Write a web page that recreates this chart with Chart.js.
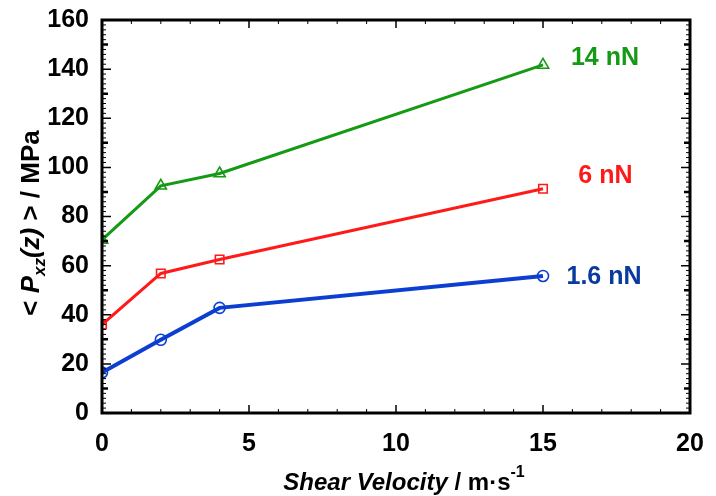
<!DOCTYPE html>
<html>
<head>
<meta charset="utf-8">
<script src="https://cdn.jsdelivr.net/npm/chart.js@4"></script>
<style>
  html, body { margin: 0; padding: 0; background: #fff; }
  #wrap { width: 716px; height: 496px; }
</style>
</head>
<body>
<div id="wrap"><canvas id="myChart" width="716" height="496"></canvas></div>
<script>
// --------------------------- DATA ---------------------------
const velocity = [0, 2, 4, 15];                       // shear velocity, m/s
const p14 = [70.5, 92.5, 97.5, 141.7];               // 14 nN
const p6 = [36, 56.8, 62.5, 91.3];                   // 6 nN
const p16 = [16.5, 29.8, 42.8, 55.8];                // 1.6 nN
const loadLabels = ['14 nN', '6 nN', '1.6 nN'];
const labelPos = [[15.95, 144.5], [16.2, 96.4], [15.8, 55.5]];   // where the load text sits (data units)
const xTicks = [0, 5, 10, 15, 20];
const yTicks = [0, 20, 40, 60, 80, 100, 120, 140, 160];

const GREEN = '#159a15';
const RED = '#ff1a1a';
const BLUE = '#0c3ed2';
const labelColors = [GREEN, RED, '#0b3a9e'];

const pts = (ys) => velocity.map((x, i) => ({ x: x, y: ys[i] }));

// --------------------------- PLUGIN: frame, ticks, titles ---------------------------
const decor = {
    id: 'decor',
    afterDraw(chart) {
        const ctx = chart.ctx;
        const a = chart.chartArea;
        const xs = chart.scales.x, ys = chart.scales.y;
        ctx.save();
        ctx.strokeStyle = '#000';

        // inward ticks, x: every 1 (minor), every 5 (major)
        for (let v = 0; v <= 20; v += 1) {
            const px = xs.getPixelForValue(v);
            const len = v % 5 === 0 ? 8 : 4;
            ctx.lineWidth = v % 5 === 0 ? 1.5 : 1;
            ctx.beginPath();
            ctx.moveTo(px, a.bottom); ctx.lineTo(px, a.bottom - len);
            ctx.moveTo(px, a.top); ctx.lineTo(px, a.top + len);
            ctx.stroke();
        }
        // inward ticks, y: every 2, 10, 20
        for (let v = 0; v <= 160; v += 2) {
            const py = ys.getPixelForValue(v);
            let len = 4, w = 1;
            if (v % 20 === 0) { len = 9; w = 1.5; }
            else if (v % 10 === 0) { len = 6; w = 2.5; }
            ctx.lineWidth = w;
            ctx.beginPath();
            ctx.moveTo(a.left, py); ctx.lineTo(a.left + len, py);
            ctx.moveTo(a.right, py); ctx.lineTo(a.right - len, py);
            ctx.stroke();
        }
        // frame
        ctx.lineWidth = 3;
        ctx.strokeRect(a.left, a.top, a.right - a.left, a.bottom - a.top);

        // load labels
        ctx.font = 'bold 25px "Liberation Sans", Arial, sans-serif';
        ctx.textBaseline = 'middle';
        ctx.textAlign = 'left';
        loadLabels.forEach((t, i) => {
            ctx.fillStyle = labelColors[i];
            ctx.fillText(t, xs.getPixelForValue(labelPos[i][0]), ys.getPixelForValue(labelPos[i][1]));
        });

        // x title: Shear Velocity / m·s^-1
        ctx.fillStyle = '#000';
        ctx.textBaseline = 'alphabetic';
        const fIt = 'italic bold 24px "Liberation Sans", Arial, sans-serif';
        const fB = 'bold 24px "Liberation Sans", Arial, sans-serif';
        const fSup = 'bold 16px "Liberation Sans", Arial, sans-serif';
        const xParts = [[ 'Shear Velocity', fIt, 0 ], [ ' / m\u00b7s', fB, 0 ], [ '-1', fSup, -13 ]];
        let total = 0;
        xParts.forEach(p => { ctx.font = p[1]; total += ctx.measureText(p[0]).width; });
        let cx = 404 - total / 2;
        xParts.forEach(p => {
            ctx.font = p[1];
            ctx.fillText(p[0], cx, 490 + p[2]);
            cx += ctx.measureText(p[0]).width;
        });

        // y title: < P_xz(z) > / MPa, rotated
        const yIt = 'italic bold 26px "Liberation Sans", Arial, sans-serif';
        const yB = 'bold 26px "Liberation Sans", Arial, sans-serif';
        const ySub = 'italic bold 17px "Liberation Sans", Arial, sans-serif';
        const yParts = [[ '< ', yB, 0 ], [ 'P', yIt, 0 ], [ 'xz', ySub, 6 ], [ '(z)', yIt, 0 ], [ ' > / MPa', yB, 0 ]];
        total = 0;
        yParts.forEach(p => { ctx.font = p[1]; total += ctx.measureText(p[0]).width; });
        ctx.translate(39, 223);
        ctx.rotate(-Math.PI / 2);
        cx = -total / 2;
        yParts.forEach(p => {
            ctx.font = p[1];
            ctx.fillText(p[0], cx, p[2]);
            cx += ctx.measureText(p[0]).width;
        });
        ctx.restore();
    }
};

// --------------------------- CHART ---------------------------
const ds = (label, data, color, shape, lw, r) => ({
    label: label,
    data: data,
    showLine: true,
    borderColor: color,
    backgroundColor: 'rgba(255,255,255,0)',
    borderWidth: lw,
    pointStyle: shape,
    pointRadius: r,
    pointBorderWidth: 1.6,
    pointBorderColor: color,
    pointBackgroundColor: 'rgba(255,255,255,0)',
    tension: 0
});

let ctx = document.querySelector('#myChart');
let myChart = new Chart(ctx, {
    type: 'scatter',
    data: {
        datasets: [
            ds('14 nN', pts(p14), GREEN, 'triangle', 3, 6.5),
            ds('6 nN', pts(p6), RED, 'rect', 3, 6),
            ds('1.6 nN', pts(p16), BLUE, 'circle', 4, 5.5)
        ]
    },
    options: {
        responsive: false,
        animation: false,
        devicePixelRatio: 1,
        layout: { padding: { top: 18, right: 26, left: 0, bottom: 0 } },
        plugins: { legend: { display: false }, tooltip: { enabled: false } },
        scales: {
            x: {
                type: 'linear', min: 0, max: 20,
                afterBuildTicks: (s) => { s.ticks = xTicks.map(v => ({ value: v })); },
                afterFit: (s) => { s.height = 83; },
                grid: { display: false },
                border: { display: false },
                ticks: { color: '#000', padding: 8, font: { family: '"Liberation Sans", Arial, sans-serif', size: 25, weight: 'bold' }, maxRotation: 0 }
            },
            y: {
                type: 'linear', min: 0, max: 160,
                afterBuildTicks: (s) => { s.ticks = yTicks.map(v => ({ value: v })); },
                afterFit: (s) => { s.width = 102; },
                grid: { display: false },
                border: { display: false },
                ticks: { color: '#000', padding: 5, font: { family: '"Liberation Sans", Arial, sans-serif', size: 25, weight: 'bold' } }
            }
        }
    },
    plugins: [decor]
});
</script>
</body>
</html>
